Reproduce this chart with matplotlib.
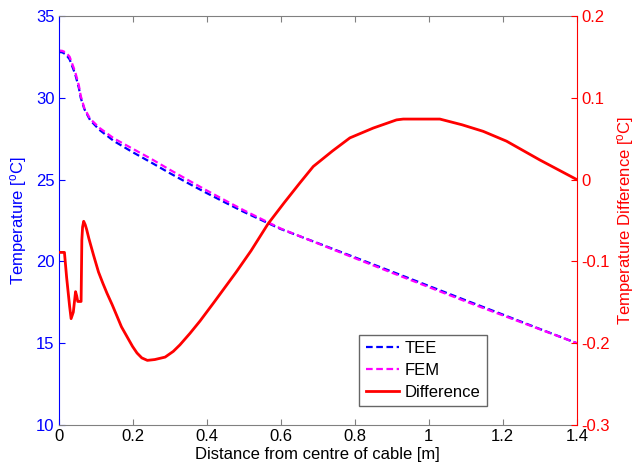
import matplotlib
matplotlib.use("Agg")
import matplotlib.pyplot as plt

plt.rcParams['font.family'] = ['Liberation Sans', 'DejaVu Sans']
plt.rcParams['mathtext.fontset'] = 'custom'
plt.rcParams['mathtext.rm'] = 'Liberation Sans'
plt.rcParams['mathtext.it'] = 'Liberation Sans:italic'
plt.rcParams['font.size'] = 12

# Temperature profiles along the radial distance (m, degC)
dist = [0, 0.01, 0.02, 0.03, 0.045, 0.055, 0.06, 0.07, 0.085, 0.11, 0.15, 0.2,
        0.25, 0.3, 0.35, 0.4, 0.45, 0.5, 0.6, 0.7, 0.8, 0.9, 1.0, 1.1, 1.2, 1.3, 1.4]
temp_tee = [32.80, 32.78, 32.65, 32.35, 31.45, 30.60, 30.00, 29.30, 28.65, 28.05, 27.35, 26.68,
            26.05, 25.40, 24.78, 24.18, 23.60, 23.03, 21.98, 21.12, 20.25, 19.38, 18.50, 17.62,
            16.75, 15.87, 15.00]
temp_fem = [32.89, 32.87, 32.77, 32.51, 31.59, 30.75, 30.12, 29.35, 28.73, 28.17, 27.51, 26.89,
            26.27, 25.61, 24.97, 24.34, 23.73, 23.13, 22.01, 21.10, 20.20, 19.31, 18.43, 17.55,
            16.70, 15.85, 15.00]

# TEE minus FEM
dist_diff = [0, 0.016, 0.022, 0.03, 0.034, 0.04, 0.046, 0.049, 0.052, 0.056, 0.061, 0.063,
             0.065, 0.068, 0.072, 0.076, 0.082, 0.095, 0.108, 0.12, 0.131, 0.145, 0.158, 0.17,
             0.185, 0.2, 0.212, 0.225, 0.24, 0.26, 0.288, 0.31, 0.328, 0.355, 0.382, 0.42,
             0.48, 0.52, 0.566, 0.61, 0.652, 0.688, 0.74, 0.787, 0.85, 0.913, 0.931, 1.03,
             1.09, 1.147, 1.21, 1.30, 1.40]
temp_diff = [-0.089, -0.089, -0.12, -0.155, -0.170, -0.162, -0.137, -0.142, -0.149, -0.149, -0.149, -0.074,
             -0.058, -0.051, -0.055, -0.061, -0.072, -0.093, -0.113, -0.127, -0.139, -0.153, -0.167, -0.180,
             -0.192, -0.204, -0.212, -0.218, -0.221, -0.220, -0.217, -0.210, -0.202, -0.188, -0.173, -0.150,
             -0.113, -0.087, -0.054, -0.028, -0.004, 0.016, 0.035, 0.051, 0.063, 0.073, 0.074, 0.074,
             0.067, 0.059, 0.047, 0.024, 0.0]

fig = plt.figure(figsize=(6.36, 4.72), dpi=100)
ax1 = fig.add_axes([0.092, 0.0996, 0.815, 0.8665])
ax2 = ax1.twinx()

l1, = ax1.plot(dist, temp_tee, '--', color='#0000ff', lw=1.6, dashes=(3, 1.6))
l2, = ax1.plot(dist, temp_fem, '--', color='#ff00ff', lw=1.6, dashes=(3, 1.6))
l3, = ax2.plot(dist_diff, temp_diff, '-', color='#ff0000', lw=2)

ax1.set_xlim(0, 1.4)
ax1.set_ylim(10, 35)
ax2.set_ylim(-0.3, 0.2)
ax1.set_xticks([0, 0.2, 0.4, 0.6, 0.8, 1, 1.2, 1.4])
ax1.set_xticklabels(['0', '0.2', '0.4', '0.6', '0.8', '1', '1.2', '1.4'])
ax1.set_yticks([10, 15, 20, 25, 30, 35])
ax2.set_yticks([-0.3, -0.2, -0.1, 0, 0.1, 0.2])
ax2.set_yticklabels(['-0.3', '-0.2', '-0.1', '0', '0.1', '0.2'])

for sp in ['top', 'bottom']:
    ax1.spines[sp].set_color('0.5')
    ax2.spines[sp].set_visible(False)
ax1.spines['left'].set_color('#0000ff')
ax1.spines['right'].set_visible(False)
ax2.spines['left'].set_visible(False)
ax2.spines['right'].set_color('#ff0000')

ax1.tick_params(axis='x', direction='in', length=4, colors='0.5', labelcolor='black',
                top=True, pad=3)
ax1.tick_params(axis='y', direction='in', length=4, colors='#0000ff', labelcolor='#0000ff', pad=3)
ax2.tick_params(axis='y', direction='in', length=4, colors='#ff0000', labelcolor='#ff0000', pad=3)

ax1.set_xlabel('Distance from centre of cable [m]', labelpad=2)
ax1.set_ylabel(r'Temperature [$^\mathrm{o}$C]', color='#0000ff', labelpad=5)
ax2.set_ylabel(r'Temperature Difference [$^\mathrm{o}$C]', color='#ff0000', labelpad=4)

leg = ax1.legend([l1, l2, l3], ['TEE', 'FEM', 'Difference'], loc='lower left',
                 bbox_to_anchor=(0.58, 0.046), fancybox=False, framealpha=1,
                 edgecolor='0.4', handlelength=2.0, handletextpad=0.3,
                 borderpad=0.4, labelspacing=0.4, borderaxespad=0)
leg.get_frame().set_linewidth(1.0)

fig.savefig('out.png', dpi=100)
